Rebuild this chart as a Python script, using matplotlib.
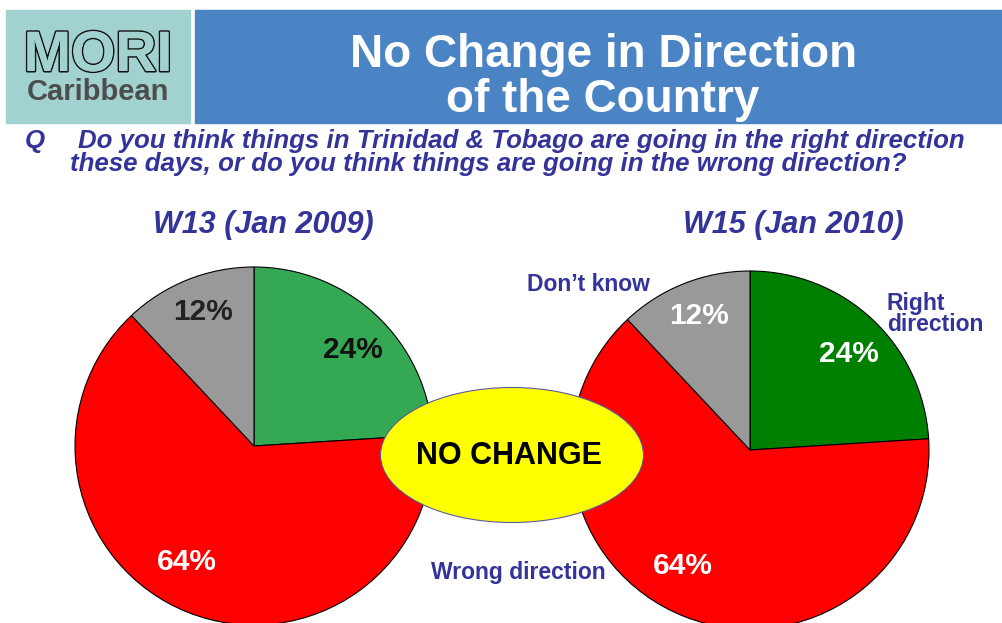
import matplotlib.pyplot as plt
import matplotlib.patheffects as pe
from matplotlib.patches import Rectangle, Ellipse
import numpy as np

plt.rcParams['font.family'] = ['Liberation Sans', 'DejaVu Sans']

# survey data
categories = ['Right direction', 'Wrong direction', "Don't know"]
w13_values = [24, 64, 12]
w15_values = [24, 64, 12]
wave_titles = ['W13 (Jan 2009)', 'W15 (Jan 2010)']

W, H = 1003, 623
fig = plt.figure(figsize=(W / 100, H / 100), dpi=100)
ax = fig.add_axes([0, 0, 1, 1])


def Y(y):
    # image y (top down) -> data y (bottom up)
    return H - y


navy = '#333399'

# header: logo box and title banner
ax.add_patch(Rectangle((6, Y(123)), 184.5, 113, color='#A2D2CF', zorder=1))
ax.add_patch(Rectangle((195, Y(123)), W - 195, 113, color='#4A84C5', zorder=1))
ax.text(98, Y(71), 'MORI', fontsize=41, fontweight='bold', color='#A2D2CF',
        ha='center', va='baseline', zorder=2,
        path_effects=[pe.withStroke(linewidth=2.2, foreground='#111111'), pe.Normal()])
ax.text(98, Y(100), 'Caribbean', fontsize=21, fontweight='bold', color='#4D4D4D',
        ha='center', va='baseline', zorder=2)
ax.text(604, Y(67), 'No Change in Direction', fontsize=33, fontweight='bold',
        color='white', ha='center', va='baseline', zorder=2)
ax.text(603, Y(112), 'of the Country', fontsize=33, fontweight='bold',
        color='white', ha='center', va='baseline', zorder=2)

# question
qkw = dict(fontsize=18.6, fontweight='bold', fontstyle='italic', color=navy, va='baseline')
ax.text(25, Y(148), 'Q', **qkw)
ax.text(78, Y(148), 'Do you think things in Trinidad & Tobago are going in the right direction', **qkw)
ax.text(70, Y(171), 'these days, or do you think things are going in the wrong direction?', **qkw)

# wave titles
for title, x in zip(wave_titles, [263, 793]):
    ax.text(x, Y(233), title, fontsize=22, fontweight='bold', fontstyle='italic',
            color=navy, ha='center', va='baseline')

pies = [
    (w13_values, (254, Y(446)), ['#35A853', '#FF0000', '#999999'], ['#111111', 'white', '#222222']),
    (w15_values, (750, Y(450)), ['#008000', '#FF0000', '#999999'], ['white', 'white', 'white']),
]
label_angles = [44, 240, 111]
label_r = [0.77, 0.75, 0.8]

for values, center, colors, txt_colors in pies:
    ax.pie(values, colors=colors, startangle=90, counterclock=False,
           center=center, radius=179,
           wedgeprops=dict(edgecolor='black', linewidth=0.8))
    for v, ang, r, c in zip(values, label_angles, label_r, txt_colors):
        a = np.deg2rad(ang)
        ax.text(center[0] + r * 179 * np.cos(a), center[1] + r * 179 * np.sin(a),
                f'{v}%', fontsize=21.5, fontweight='bold', color=c,
                ha='center', va='center', zorder=5)

# category labels around right pie
lkw = dict(fontsize=16.5, fontweight='bold', color=navy, zorder=5)
ax.text(887, Y(310), categories[0].split()[0], ha='left', va='baseline', **lkw)
ax.text(887, Y(331), categories[0].split()[1], ha='left', va='baseline', **lkw)
ax.text(527, Y(291), categories[2].replace("'", '\u2019'), ha='left', va='baseline', **lkw)
ax.text(431, Y(579), categories[1], ha='left', va='baseline', **lkw)

# "no change" ellipse
ax.add_patch(Ellipse((512, Y(455)), 263, 135, facecolor='#FFFF00',
                     edgecolor='#5A5AA0', linewidth=0.8, zorder=4))
ax.text(509, Y(456), 'NO CHANGE', fontsize=22, fontweight='bold', color='black',
        ha='center', va='center', zorder=5)

ax.set_xlim(0, W)
ax.set_ylim(0, H)
ax.set_aspect('auto')
ax.axis('off')

fig.savefig('out.png', dpi=100)
